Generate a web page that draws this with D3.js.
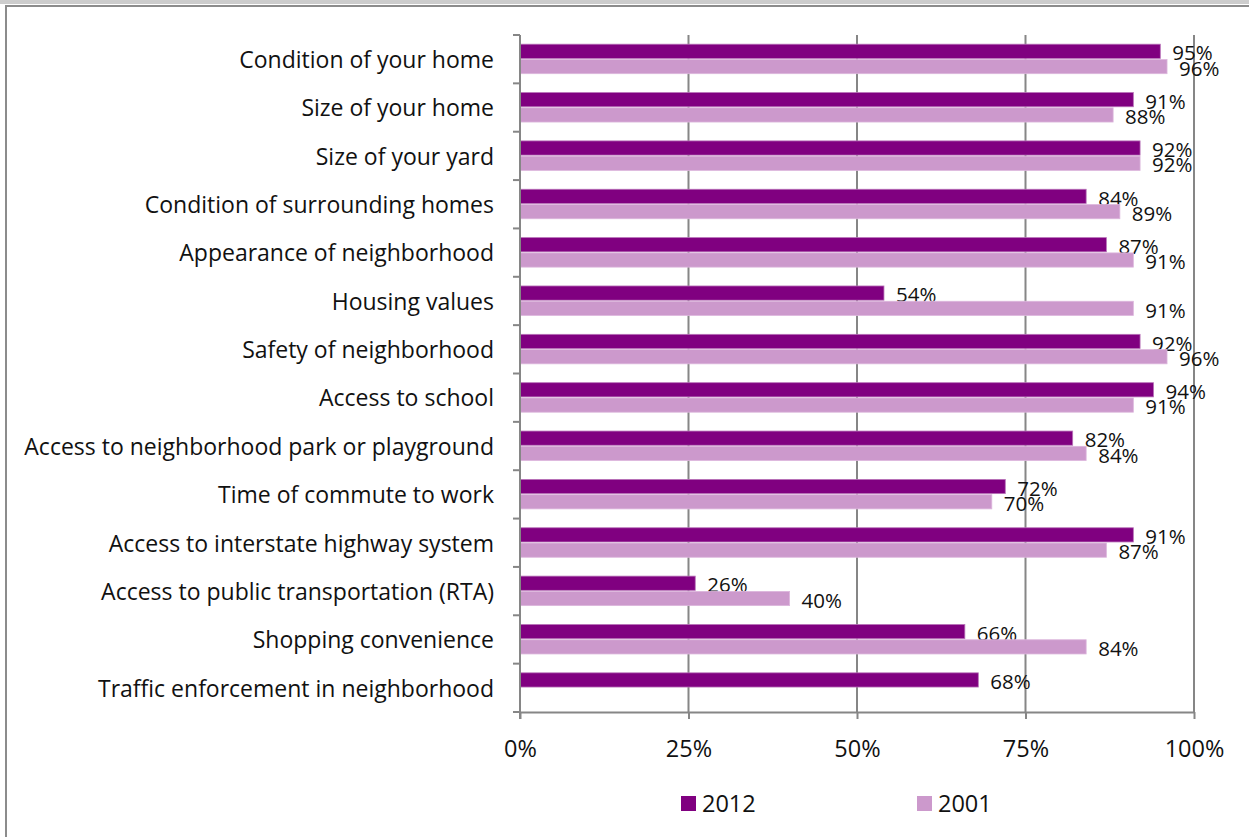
<!DOCTYPE html>
<html>
<head>
<meta charset="utf-8">
<script src="https://cdn.jsdelivr.net/npm/d3@7"></script>
<style>
  html, body { margin: 0; padding: 0; background: #fff; }
  svg { display: block; font-family: "Open Sans", Lato, sans-serif; }
</style>
</head>
<body>
<svg id="chart" width="1249" height="837"></svg>
<script>
// Satisfaction ratings, share of residents satisfied
const categories = [
  "Condition of your home",
  "Size of your home",
  "Size of your yard",
  "Condition of surrounding homes",
  "Appearance of neighborhood",
  "Housing values",
  "Safety of neighborhood",
  "Access to school",
  "Access to neighborhood park or playground",
  "Time of commute  to work",
  "Access to interstate  highway system",
  "Access to public transportation  (RTA)",
  "Shopping convenience",
  "Traffic enforcement in neighborhood"
];
const values2012 = [95, 91, 92, 84, 87, 54, 92, 94, 82, 72, 91, 26, 66, 68];
const values2001 = [96, 88, 92, 89, 91, 91, 96, 91, 84, 70, 87, 40, 84, null];
const seriesNames = ["2012", "2001"];
const seriesColors = ["#800080", "#cc99cc"];
const xTicks = [0, 25, 50, 75, 100];

const svg = d3.select("#chart");
const W = 1249, H = 837;
const margin = { left: 520, top: 35 };
const plotW = 1194 - margin.left;
const plotH = 712 - margin.top;
const fontFamily = "'Open Sans', Lato, sans-serif";
const textColor = "#111";

// outer frame
svg.append("line").attr("x1", 0).attr("x2", W).attr("y1", 1).attr("y2", 1)
  .attr("stroke", "#9a9a9a").attr("stroke-width", 1);
svg.append("line").attr("x1", 0).attr("x2", W).attr("y1", 3).attr("y2", 3)
  .attr("stroke", "#9a9a9a").attr("stroke-width", 1);
svg.append("path").attr("d", `M6,${H} V6 H${W}`)
  .attr("fill", "none").attr("stroke", "#8c8c8c").attr("stroke-width", 2);

const g = svg.append("g").attr("transform", `translate(${margin.left},${margin.top})`);

const x = d3.scaleLinear().domain([0, 100]).range([0, plotW]);
const y = d3.scaleBand().domain(categories).range([0, plotH]);
const inner = d3.scaleBand().domain(seriesNames)
  .range([y.bandwidth() * 0.19, y.bandwidth() * 0.8]).paddingInner(0.07);

const axisColor = "#868686";

// vertical gridlines
g.selectAll("line.grid").data(xTicks.slice(1)).join("line")
  .attr("class", "grid")
  .attr("x1", d => x(d)).attr("x2", d => x(d))
  .attr("y1", 0).attr("y2", plotH)
  .attr("stroke", axisColor).attr("stroke-width", 2);

// bars with value labels
const rows = categories.map((c, i) => ({ c, vals: [values2012[i], values2001[i]] }));
const rowG = g.selectAll("g.row").data(rows).join("g")
  .attr("class", "row")
  .attr("transform", d => `translate(0,${y(d.c)})`);

seriesNames.forEach((s, si) => {
  const sub = rowG.filter(d => d.vals[si] != null);
  sub.append("rect")
    .attr("x", 0)
    .attr("y", inner(s))
    .attr("width", d => x(d.vals[si]))
    .attr("height", inner.bandwidth())
    .attr("fill", seriesColors[si])
    .attr("stroke", si === 0 ? "#b873b8" : "#dcb6dc")
    .attr("stroke-width", 0.8);
  sub.append("text")
    .attr("x", d => x(d.vals[si]) + 12)
    .attr("y", inner(s) + inner.bandwidth() / 2 + 2)
    .attr("dy", "0.35em")
    .attr("font-size", 20.5)
    .attr("fill", textColor)
    .text(d => d.vals[si] + "%");
});

// y axis
const yAxis = g.append("g")
  .call(d3.axisLeft(y).tickSize(0).tickPadding(26));
yAxis.select(".domain").remove();
yAxis.selectAll("text").attr("font-size", 23).attr("fill", textColor)
  .attr("font-family", fontFamily).attr("dy", "0.38em");
g.append("line").attr("x1", 0).attr("x2", 0).attr("y1", 0).attr("y2", plotH + 7)
  .attr("stroke", axisColor).attr("stroke-width", 2);
// category boundary ticks
const bounds = d3.range(categories.length + 1).map(i => i * y.step());
g.selectAll("line.ytick").data(bounds).join("line")
  .attr("class", "ytick")
  .attr("x1", -7).attr("x2", 0)
  .attr("y1", d => d).attr("y2", d => d)
  .attr("stroke", axisColor).attr("stroke-width", 2);

// x axis
const xAxis = g.append("g").attr("transform", `translate(0,${plotH})`)
  .call(d3.axisBottom(x).tickValues(xTicks).tickFormat(d => d + "%")
    .tickSize(7).tickPadding(21).tickSizeOuter(0));
xAxis.select(".domain").attr("stroke", axisColor).attr("stroke-width", 2);
xAxis.selectAll(".tick line").attr("stroke", axisColor).attr("stroke-width", 2);
xAxis.selectAll("text").attr("font-size", 23.5).attr("fill", textColor)
  .attr("font-family", fontFamily);

// legend
const legendX = [681, 917];
const legend = svg.append("g");
seriesNames.forEach((s, i) => {
  legend.append("rect").attr("x", legendX[i]).attr("y", 796).attr("width", 15).attr("height", 15)
    .attr("fill", seriesColors[i]);
  legend.append("text").attr("x", legendX[i] + 21).attr("y", 804).attr("dy", "0.35em")
    .attr("font-size", 23.5).attr("fill", textColor).text(s);
});
</script>
</body>
</html>
